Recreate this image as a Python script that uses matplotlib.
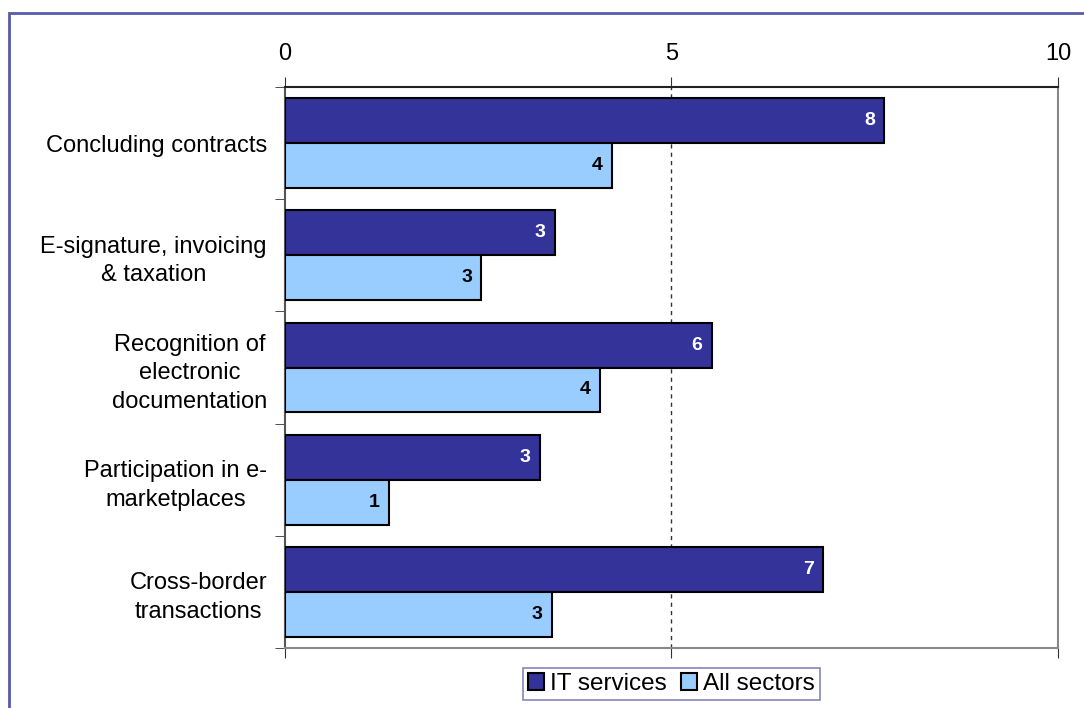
import matplotlib.pyplot as plt
from matplotlib.patches import Rectangle

plt.rcParams['font.family'] = ['Liberation Sans', 'DejaVu Sans']

categories = ['Concluding contracts', 'E-signature, invoicing\n& taxation',
              'Recognition of\nelectronic\ndocumentation',
              'Participation in e-\nmarketplaces', 'Cross-border\ntransactions']
it_services = [7.75, 3.49, 5.52, 3.30, 6.96]
all_sectors = [4.23, 2.54, 4.07, 1.35, 3.45]
x_ticks = [0, 5, 10]

it_color = '#333399'
all_color = '#99CCFF'

fig = plt.figure(figsize=(10.84, 7.08), dpi=100)
ax = fig.add_axes([0.2629, 0.0847, 0.976 - 0.2629, 0.8771 - 0.0847])

pos = list(range(len(categories)))
h = 0.4
b1 = ax.barh([p - 0.2 for p in pos], it_services, height=h, color=it_color,
             edgecolor='black', linewidth=1.5, label='IT services', zorder=3)
b2 = ax.barh([p + 0.2 for p in pos], all_sectors, height=h, color=all_color,
             edgecolor='black', linewidth=1.5, label='All sectors', zorder=3)

# value labels just inside the bar ends
for bars, vals, col in [(b1, it_services, 'white'), (b2, all_sectors, 'black')]:
    for bar, v in zip(bars, vals):
        ax.text(v - 0.12, bar.get_y() + bar.get_height() / 2, f'{v:.0f}',
                ha='right', va='center', color=col, fontsize=14,
                fontweight='bold', zorder=4)

ax.set_xlim(0, 10)
ax.set_ylim(4.5, -0.5)
ax.xaxis.tick_top()
ax.set_xticks(x_ticks)
ax.tick_params(axis='x', which='major', top=True, bottom=True, labeltop=True,
               labelbottom=False, length=7, labelsize=17, pad=9, color='#333333')

ax.set_yticks(pos)
ax.set_yticklabels(categories, fontsize=17)
for lbl in ax.get_yticklabels():
    lbl.set_multialignment('center')
    lbl.set_linespacing(1.38)
ax.tick_params(axis='y', which='major', length=0, pad=13)
ax.set_yticks([p - 0.5 for p in pos] + [4.5], minor=True)
ax.tick_params(axis='y', which='minor', length=7, color='#333333')

# dashed gridline at 5
ax.axvline(5, color='#333333', linestyle=(0, (3, 3)), linewidth=1, zorder=1)

ax.spines['top'].set_color('#222222')
ax.spines['top'].set_linewidth(1.5)
ax.spines['left'].set_color('#555555')
ax.spines['left'].set_linewidth(1.5)
ax.spines['bottom'].set_color('#888888')
ax.spines['bottom'].set_linewidth(1.5)
ax.spines['right'].set_color('#888888')
ax.spines['right'].set_linewidth(1.5)

leg = fig.legend(loc='center', bbox_to_anchor=(0.6195, 0.034), ncol=2,
                 fontsize=17.5, frameon=True, fancybox=False, edgecolor='#6666AA',
                 handlelength=0.65, handleheight=0.65, handletextpad=0.25,
                 columnspacing=0.6, borderpad=0.2, borderaxespad=0)
leg.get_frame().set_linewidth(1.2)

fig.patches.append(Rectangle((0.0083, -0.2), 1.2, 0.9816 + 0.2,
                             transform=fig.transFigure, fill=False,
                             edgecolor='#5A5AAA', linewidth=2))

fig.savefig('out.png', dpi=100)
